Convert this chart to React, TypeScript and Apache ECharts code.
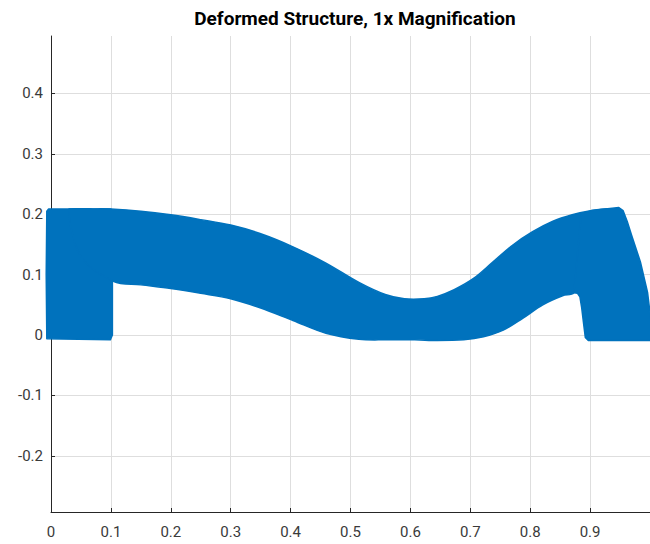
import React, { useEffect, useRef } from "react";
import * as echarts from "echarts";

// Outline pieces of the deformed structure, in data coordinates [x, y]
const leftLeg: number[][] = [
  [-0.007, -0.006],
  [-0.008, 0.1],
  [-0.007, 0.205],
  [-0.004, 0.2088],
  [0.1, 0.2085],
  [0.1025, 0.084],
  [0.1025, 0.0],
  [0.099, -0.008],
];
const beamTop: number[][] = [
  [0.03, 0.2088],
  [0.07, 0.2088],
  [0.1, 0.2085],
  [0.15, 0.205],
  [0.2, 0.199],
  [0.25, 0.191],
  [0.3, 0.182],
  [0.349, 0.168],
  [0.404, 0.146],
  [0.459, 0.119],
  [0.514, 0.087],
  [0.558, 0.067],
  [0.59, 0.06],
  [0.623, 0.06],
  [0.645, 0.064],
  [0.673, 0.075],
  [0.706, 0.094],
  [0.738, 0.121],
  [0.771, 0.149],
  [0.804, 0.171],
  [0.837, 0.188],
  [0.87, 0.199],
  [0.903, 0.206],
  [0.93, 0.209],
];
const beamUnderside: number[][] = [
  [0.905, 0.12],
  [0.873, 0.07],
  [0.854, 0.065],
  [0.821, 0.05],
  [0.788, 0.028],
  [0.755, 0.008],
  [0.722, -0.003],
  [0.689, -0.008],
  [0.645, -0.009],
  [0.607, -0.008],
  [0.56, -0.008],
  [0.514, -0.007],
  [0.459, 0.003],
  [0.404, 0.024],
  [0.349, 0.045],
  [0.3, 0.06],
  [0.25, 0.069],
  [0.2, 0.077],
  [0.15, 0.083],
  [0.104, 0.089],
  [0.05, 0.13],
];
const rightLeg: number[][] = [
  [0.885, 0.2],
  [0.903, 0.206],
  [0.948, 0.211],
  [0.955, 0.206],
  [0.962, 0.188],
  [0.969, 0.166],
  [0.984, 0.121],
  [0.996, 0.07],
  [1.002, 0.02],
  [1.002, -0.009],
  [0.897, -0.009],
  [0.892, -0.004],
  [0.889, 0.02],
  [0.886, 0.045],
  [0.883, 0.063],
  [0.879, 0.069],
  [0.873, 0.07],
];

const pieces = [
  { name: "leftLeg", points: leftLeg, smooth: 0 },
  { name: "beam", points: [...beamTop, ...beamUnderside], smooth: 0.35 },
  { name: "rightLeg", points: rightLeg, smooth: 0 },
];

const xTicks = [0, 0.1, 0.2, 0.3, 0.4, 0.5, 0.6, 0.7, 0.8, 0.9];
const yTicks = [-0.2, -0.1, 0, 0.1, 0.2, 0.3, 0.4];
const xRange = [0, 1.0];
const yRange = [-0.293, 0.495];
const titleText = "Deformed Structure, 1x Magnification";

export default function App() {
  const ref = useRef<HTMLDivElement>(null);
  useEffect(() => {
    if (!ref.current) return;
    const chart = echarts.init(ref.current, null, { renderer: "svg" });
    const axisCommon = {
      type: "value" as const,
      axisLine: { show: true, onZero: false, lineStyle: { color: "#262626", width: 1 } },
      axisTick: { show: true, inside: true, length: 4, lineStyle: { color: "#262626" } },
      axisLabel: { color: "#3a3a3a", fontSize: 15, fontFamily: "Roboto" },
      splitLine: { show: true, lineStyle: { color: "#dedede", width: 1 } },
    };
    chart.setOption({
      animation: false,
      backgroundColor: "#ffffff",
      graphic: [
        {
          type: "text",
          x: 355,
          y: 18,
          style: {
            text: titleText,
            font: "bold 19px Roboto",
            fill: "#000000",
            textAlign: "center",
            textVerticalAlign: "middle",
          },
        },
      ],
      grid: { left: 51, top: 36, width: 608, height: 476 },
      xAxis: {
        ...axisCommon,
        min: xRange[0],
        max: xRange[1],
        axisTick: { ...axisCommon.axisTick, customValues: xTicks },
        axisLabel: { ...axisCommon.axisLabel, customValues: xTicks, margin: 12 },
      },
      yAxis: {
        ...axisCommon,
        min: yRange[0],
        max: yRange[1],
        axisTick: { ...axisCommon.axisTick, customValues: yTicks },
        axisLabel: { ...axisCommon.axisLabel, customValues: yTicks, margin: 8 },
      },
      series: [
        {
          type: "custom",
          clip: false,
          encode: { x: 0, y: 1 },
          data: pieces.map((p) => p.points[0]),
          renderItem: (params: any, api: any) => {
            const piece = pieces[params.dataIndex];
            if (!piece) return null;
            const pts: number[][] = piece.points.map((p) => api.coord(p));
            let minX = Infinity, minY = Infinity, maxX = -Infinity, maxY = -Infinity;
            pts.forEach((q) => {
              minX = Math.min(minX, q[0]);
              minY = Math.min(minY, q[1]);
              maxX = Math.max(maxX, q[0]);
              maxY = Math.max(maxY, q[1]);
            });
            const shape: any = { points: pts };
            if (piece.smooth) {
              shape.smooth = piece.smooth;
              shape.smoothConstraint = [
                [minX, minY],
                [maxX, maxY],
              ];
            }
            return {
              type: "polygon",
              shape,
              style: {
                fill: "#0072bd",
                stroke: "#0072bd",
                lineWidth: 1.5,
                lineJoin: "round",
              },
            };
          },
        },
      ],
    });
    return () => chart.dispose();
  }, []);
  return (
    <div
      ref={ref}
      style={{ position: "fixed", left: 0, top: 0, width: 650, height: 544 }}
    />
  );
}
